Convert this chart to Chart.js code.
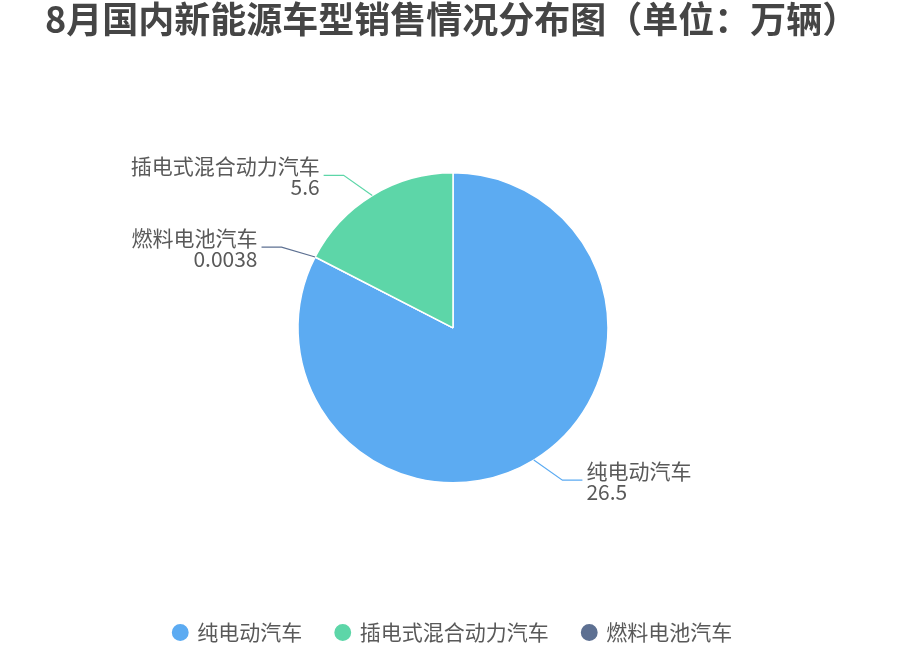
<!DOCTYPE html>
<html>
<head>
<meta charset="utf-8">
<script src="https://cdn.jsdelivr.net/npm/chart.js@4"></script>
<style>
    html, body { margin: 0; padding: 0; background: #fff; }
    #wrap { width: 906px; height: 650px; position: relative; }
</style>
</head>
<body>
<div id="wrap"><canvas id="pieChart"></canvas></div>
<script>
// slice order as drawn (clockwise from 12 o'clock)
const categories = ['纯电动汽车', '燃料电池汽车', '插电式混合动力汽车'];
const sales = [26.5, 0.0038, 5.6];
const sliceColors = ['#5CABF2', '#5D7092', '#5DD6A8'];
// legend order shown under the chart
const legendOrder = ['纯电动汽车', '插电式混合动力汽车', '燃料电池汽车'];

const FONT = '"Noto Sans CJK SC", "Noto Sans", sans-serif';

// leader lines + two-line labels beside each slice
const pieLabels = {
    id: 'pieLabels',
    afterDatasetsDraw(chart) {
        const ctx = chart.ctx;
        const meta = chart.getDatasetMeta(0);
        const values = chart.data.datasets[0].data;
        ctx.save();
        meta.data.forEach((arc, i) => {
            const p = arc.getProps(['x', 'y', 'startAngle', 'endAngle', 'outerRadius']);
            const mid = (p.startAngle + p.endAngle) / 2;
            const cos = Math.cos(mid);
            const sin = Math.sin(mid);
            const x0 = p.x + cos * p.outerRadius;
            const y0 = p.y + sin * p.outerRadius;
            const side = cos >= 0 ? 1 : -1;
            const tilt = Math.atan2(Math.abs(sin), Math.abs(cos)) * 0.6;
            const x1 = x0 + side * 35 * Math.cos(tilt);
            const y1 = y0 + Math.sign(sin) * 35 * Math.sin(tilt);
            const x2 = x1 + side * 20;

            ctx.strokeStyle = sliceColors[i];
            ctx.lineWidth = 1.2;
            ctx.beginPath();
            ctx.moveTo(x0, y0);
            ctx.lineTo(x1, y1);
            ctx.lineTo(x2, y1);
            ctx.stroke();

            ctx.fillStyle = '#595959';
            ctx.font = '21px ' + FONT;
            ctx.textBaseline = 'middle';
            ctx.textAlign = side > 0 ? 'left' : 'right';
            const tx = x2 + side * 4;
            ctx.fillText(chart.data.labels[i], tx, y1 - 9);
            ctx.fillText(String(values[i]), tx, y1 + 12);
        });
        ctx.restore();
    }
};

const ctx = document.getElementById('pieChart').getContext('2d');
const pieChart = new Chart(ctx, {
    type: 'pie',
    data: {
        labels: categories,
        datasets: [{
            data: sales,
            backgroundColor: sliceColors,
            borderColor: '#ffffff',
            borderWidth: 1.5
        }]
    },
    options: {
        responsive: true,
        maintainAspectRatio: false,
        animation: false,
        events: [],
        radius: 155,
        layout: {
            padding: { top: 0, left: 45, right: 45, bottom: -3 }
        },
        plugins: {
            title: {
                display: true,
                text: '8月国内新能源车型销售情况分布图（单位：万辆）',
                align: 'start',
                color: '#454545',
                font: { family: FONT, size: 36, weight: 'bold', lineHeight: 1.1 },
                padding: { top: 0, bottom: 28 }
            },
            legend: {
                position: 'bottom',
                labels: {
                    usePointStyle: true,
                    pointStyle: 'circle',
                    boxWidth: 13,
                    boxHeight: 13,
                    padding: 34,
                    color: '#595959',
                    font: { family: FONT, size: 21 },
                    sort: (a, b) => legendOrder.indexOf(a.text) - legendOrder.indexOf(b.text)
                }
            },
            tooltip: { enabled: false }
        }
    },
    plugins: [pieLabels]
});
</script>
</body>
</html>
